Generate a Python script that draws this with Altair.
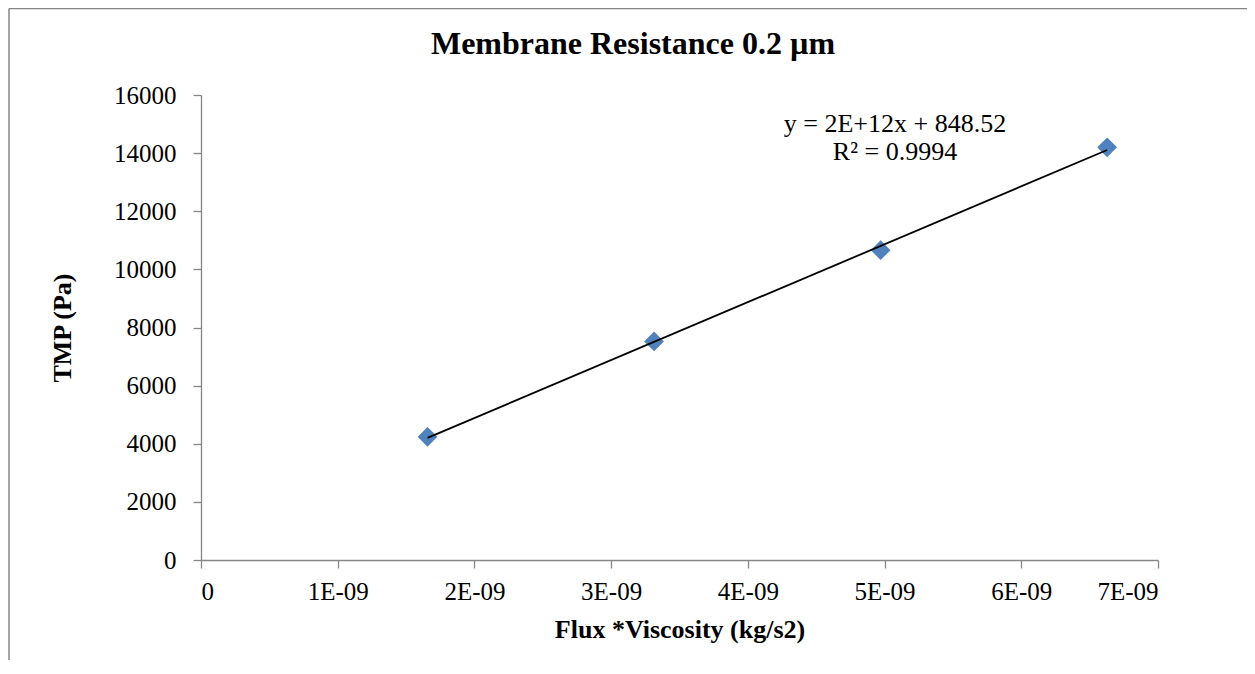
import json
import altair as alt
import pandas as pd

# Data
flux_viscosity = [1.657e-9, 3.314e-9, 4.971e-9, 6.628e-9]
tmp_pa = [4240, 7520, 10660, 14200]

x_tick_values = [0, 1e-9, 2e-9, 3e-9, 4e-9, 5e-9, 6e-9, 7e-9]
x_tick_labels = ["0", "1E-09", "2E-09", "3E-09", "4E-09", "5E-09", "6E-09", "7E-09"]
y_tick_values = [0, 2000, 4000, 6000, 8000, 10000, 12000, 14000, 16000]

chart_title = "Membrane Resistance 0.2 µm"
x_title = "Flux *Viscosity (kg/s2)"
y_title = "TMP (Pa)"
equation_lines = ["y = 2E+12x + 848.52", "R² = 0.9994"]

df = pd.DataFrame({"x": flux_viscosity, "y": tmp_pa})

FONT = "Liberation Serif"
GRAY = "#868686"

label_expr = json.dumps(x_tick_labels) + "[round(datum.value * 1e9)]"

x_enc = alt.X(
    "x:Q",
    scale=alt.Scale(domain=[0, 7e-9], nice=False, zero=True),
    axis=alt.Axis(
        values=x_tick_values,
        labelExpr=label_expr,
        title=x_title,
        titleX=478.5,
        titleY=77.3,
        titleBaseline="alphabetic",
        titleAlign="center",
        labelPadding=11,
        labelBaseline="top",
    ),
)
y_enc = alt.Y(
    "y:Q",
    scale=alt.Scale(domain=[0, 16000], nice=False),
    axis=alt.Axis(
        values=y_tick_values,
        format="d",
        title=y_title,
        titleX=-131,
        titleY=232.5,
        titleAngle=270,
        titleBaseline="alphabetic",
        titleAlign="center",
        labelPadding=17,
    ),
)

base = alt.Chart(df)

points = base.mark_point(
    shape="diamond", filled=True, size=390, color="#4F81BD", opacity=1
).encode(x=x_enc, y=y_enc)

trend = (
    base.transform_regression("x", "y", method="linear")
    .mark_line(color="black", strokeWidth=1.8)
    .encode(x="x:Q", y="y:Q")
)

title_mark = alt.Chart(pd.DataFrame({"t": [chart_title]})).mark_text(
    font=FONT, fontSize=32, fontWeight="bold", color="black",
    align="center", baseline="alphabetic"
).encode(text="t:N", x=alt.value(432), y=alt.value(-40.7))

eq_mark = alt.Chart(pd.DataFrame({"t": ["\n".join(equation_lines)]})).mark_text(
    font=FONT, fontSize=26, color="black", align="center",
    baseline="alphabetic", lineBreak="\n", lineHeight=28.3
).encode(text="t:N", x=alt.value(694), y=alt.value(36.7))

frame_left = alt.Chart(pd.DataFrame({"a": [0]})).mark_rule(
    color=GRAY, strokeWidth=1.5
).encode(x=alt.value(-192), y=alt.value(-86.5), y2=alt.value(700))

frame_top = alt.Chart(pd.DataFrame({"a": [0]})).mark_rule(
    color=GRAY, strokeWidth=1.5
).encode(x=alt.value(-192), x2=alt.value(1100), y=alt.value(-86.5))

chart = (
    alt.layer(frame_left, frame_top, points, trend, title_mark, eq_mark)
    .properties(
        width=957,
        height=465,
        autosize=alt.AutoSizeParams(type="none"),
        padding={"left": 193, "top": 87, "right": 89, "bottom": 100},
        background="white",
    )
    .configure_view(stroke=None)
    .configure_axis(
        grid=False,
        domainColor=GRAY,
        domainWidth=1.3,
        tickColor=GRAY,
        tickWidth=1.3,
        tickSize=8,
        labelFont=FONT,
        labelFontSize=25,
        labelColor="black",
        titleFont=FONT,
        titleFontSize=26,
        titleFontWeight="bold",
        titleColor="black",
    )
)

chart.save("out.html", embed_options={"renderer": "svg", "actions": False})
